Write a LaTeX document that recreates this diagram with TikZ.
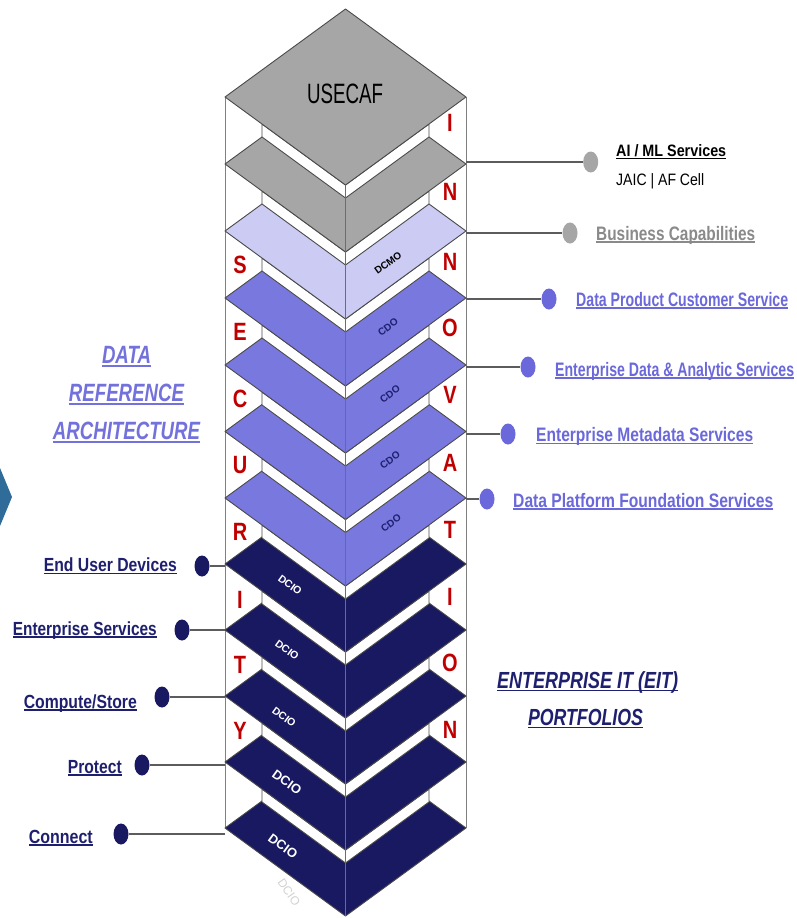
\documentclass[tikz,border=0pt]{standalone}
\usepackage{fontspec}
\setmainfont{Liberation Sans}
\usepackage{graphicx}
\usetikzlibrary{shapes.geometric}
\definecolor{gry}{HTML}{A6A6A6}
\definecolor{dcmo}{HTML}{CBCBF4}
\definecolor{cdo}{HTML}{7878DF}
\definecolor{dcio}{HTML}{191962}
\definecolor{edge}{HTML}{4A4A4A}
\definecolor{post}{HTML}{808080}
\definecolor{blu}{HTML}{6A68DA}
\definecolor{navy}{HTML}{1F1F6F}
\definecolor{gtxt}{HTML}{8A8A8A}
\definecolor{ttl}{HTML}{7371DC}
\definecolor{secred}{HTML}{C00000}
\definecolor{arrowblue}{HTML}{2F6C9A}
\newsavebox\ubox
\newcommand\ulx[1]{\sbox\ubox{#1}\usebox\ubox\llap{\rule[-0.14em]{\wd\ubox}{0.075em}}}
\newcommand\fitw[2]{\resizebox{#1}{\height}{#2}}
\tikzset{
  faceline/.style={draw=edge, line width=0.9pt, line join=round},
  conn/.style={draw=edge!90, line width=1.3pt},
  dot/.style={ellipse, minimum width=15pt, minimum height=21pt, inner sep=0pt},
  rlbl/.style={anchor=base west, inner sep=0pt, font=\bfseries\fontsize{19.5}{20}\selectfont},
  llbl/.style={anchor=base east, inner sep=0pt, font=\bfseries\fontsize{19}{20}\selectfont, text=navy},
  ttlbl/.style={anchor=base, inner sep=0pt, font=\bfseries\itshape\fontsize{25}{26}\selectfont},
  seclet/.style={inner sep=0pt, font=\bfseries\fontsize{25}{25}\selectfont, text=secred},
  laytxt/.style={inner sep=0pt, font=\bfseries\fontsize{10.5}{11}\selectfont},
  cdotxt/.style={inner sep=0pt, rotate=36, text=navy, font=\bfseries\fontsize{10}{10}\selectfont},
}
\begin{document}
\begin{tikzpicture}[x=1pt,y=-1pt]
\useasboundingbox (0,0) rectangle (797,918);
\fill[white] (0,0) rectangle (797,918);
% left blue arrow fragment
\fill[arrowblue] (0,468) -- (12,497) -- (0,526) -- cycle;
% outer posts
\draw[post, line width=0.9pt] (225,97) -- (225,828);
\draw[post, line width=0.9pt] (466,97) -- (466,828);
% layers bottom to top
\foreach \i/\y/\col in {12/828/dcio,11/762/dcio,10/696/dcio,9/630/dcio,8/564/dcio,7/498/cdo,6/431.5/cdo,5/365/cdo,4/298/cdo,3/231/dcmo,2/164/gry,1/97/gry}{
  \ifnum\i<12
    \fill[white, faceline] (262,\y+27) -- (345.5,\y+88) -- (429,\y+27) -- (429,\y+40) -- (345.5,\y+101) -- (262,\y+40) -- cycle;
  \fi
  \fill[fill=\col, faceline] (225,\y) -- (345.5,\y-88) -- (466,\y) -- (345.5,\y+88) -- cycle;
  \coordinate (L\i) at (225,\y);
  \coordinate (R\i) at (466,\y);
}
% central crease
\draw[post!85!black, line width=0.8pt] (345.5,185) -- (345.5,916);
% top label
\node[anchor=base, inner sep=0pt, font=\fontsize{28}{28}\selectfont] (usecaf) at (345,103) {\fitw{76pt}{USECAF}};
% layer labels
\node[laytxt, rotate=36, text=black, font=\bfseries\fontsize{10}{10}\selectfont] (tdcmo) at (388,263) {DCMO};
\node[cdotxt] (tcdo1) at (388,327) {CDO};
\node[cdotxt] (tcdo2) at (390,394) {CDO};
\node[cdotxt] (tcdo3) at (390,460) {CDO};
\node[cdotxt] (tcdo4) at (391,523) {CDO};
\node[laytxt, rotate=-36, text=white] (tdcio1) at (290,585) {DCIO};
\node[laytxt, rotate=-36, text=white] (tdcio2) at (287,650) {DCIO};
\node[laytxt, rotate=-36, text=white] (tdcio3) at (284,717) {DCIO};
\node[laytxt, rotate=-36, text=white, font=\bfseries\fontsize{13}{13}\selectfont] (tdcio4) at (287,782) {DCIO};
\node[laytxt, rotate=-36, text=white, font=\bfseries\fontsize{13}{13}\selectfont] (tdcio5) at (283,846) {DCIO};
\node[laytxt, rotate=-55, text=gray!35, font=\fontsize{12}{12}\selectfont] (tghost) at (289,892) {DCIO};
% SECURITY letters
\foreach \n/\l/\yy in {s1/S/265,s2/E/332,s3/C/399,s4/U/465,s5/R/532,s6/I/600,s7/T/665,s8/Y/731}{
  \node[seclet] (\n) at (240,\yy) {\scalebox{0.8}[1]{\l}};
}
% INNOVATION letters
\foreach \n/\l/\yy in {n1/I/123,n2/N/192,n3/N/262,n4/O/328,n5/V/395,n6/A/463,n7/T/530,n8/I/597,n9/O/663,n10/N/730}{
  \node[seclet] (\n) at (450,\yy) {\scalebox{0.8}[1]{\l}};
}
% right dots and connectors
\node[dot, fill=gry] (d1) at (590.7,162) {};
\node[dot, fill=gry] (d2) at (570,233) {};
\node[dot, fill=blu] (d3) at (549,299) {};
\node[dot, fill=blu] (d4) at (528,367) {};
\node[dot, fill=blu] (d5) at (508,434) {};
\node[dot, fill=blu] (d6) at (487,499) {};
\coordinate (c1) at (466,162);
\coordinate (c2) at (466,233);
\coordinate (c3) at (466,299);
\coordinate (c4) at (466,367);
\coordinate (c5) at (466,434);
\coordinate (c6) at (466,499);
\foreach \k in {1,...,6}{ \draw[conn] (c\k) -- (d\k); }
% right labels
\node[rlbl, text=black, font=\bfseries\fontsize{16.5}{17}\selectfont] (t1) at (616,156.7) {\fitw{110pt}{\ulx{AI / ML Services}}};
\node[rlbl, text=black, font=\fontsize{16.5}{17}\selectfont] (t1b) at (616,185) {\fitw{88pt}{JAIC | AF Cell}};
\node[rlbl, text=gtxt] (t2) at (596,240) {\fitw{159pt}{\ulx{Business Capabilities}}};
\node[rlbl, text=blu] (t3) at (576,306) {\fitw{212pt}{\ulx{Data Product Customer Service}}};
\node[rlbl, text=blu] (t4) at (555,376) {\fitw{239pt}{\ulx{Enterprise Data \& Analytic Services}}};
\node[rlbl, text=blu] (t5) at (536,441.5) {\fitw{217pt}{\ulx{Enterprise Metadata Services}}};
\node[rlbl, text=blu] (t6) at (513,507) {\fitw{260pt}{\ulx{Data Platform Foundation Services}}};
% left dots and connectors
\node[dot, fill=dcio] (e1) at (202,566) {};
\node[dot, fill=dcio] (e2) at (182,630) {};
\node[dot, fill=dcio] (e3) at (162,697) {};
\node[dot, fill=dcio] (e4) at (142,765) {};
\node[dot, fill=dcio] (e5) at (121,834) {};
\coordinate (p1) at (225,566);
\coordinate (p2) at (225,630);
\coordinate (p3) at (225,697);
\coordinate (p4) at (225,765);
\coordinate (p5) at (225,834);
\foreach \k in {1,...,5}{ \draw[conn] (e\k) -- (p\k); }
% left labels
\node[llbl] (u1) at (177,571.7) {\fitw{133pt}{\ulx{End User Devices}}};
\node[llbl] (u2) at (157,635) {\fitw{144pt}{\ulx{Enterprise Services}}};
\node[llbl] (u3) at (137,708) {\fitw{113pt}{\ulx{Compute/Store}}};
\node[llbl] (u4) at (122,773) {\fitw{54pt}{\ulx{Protect}}};
\node[llbl] (u5) at (93,843) {\fitw{64pt}{\ulx{Connect}}};
% titles
\node[ttlbl, text=ttl] (a1) at (126.5,363) {\fitw{49pt}{\ulx{DATA}}};
\node[ttlbl, text=ttl] (a2) at (126.5,401) {\fitw{115pt}{\ulx{REFERENCE}}};
\node[ttlbl, text=ttl] (a3) at (126.5,439) {\fitw{147pt}{\ulx{ARCHITECTURE}}};
\node[ttlbl, text=navy, font=\bfseries\itshape\fontsize{23.3}{24}\selectfont] (b1) at (587.5,688) {\fitw{181pt}{\ulx{ENTERPRISE IT (EIT)}}};
\node[ttlbl, text=navy, font=\bfseries\itshape\fontsize{23.3}{24}\selectfont] (b2) at (585.5,725) {\fitw{115pt}{\ulx{PORTFOLIOS}}};
\end{tikzpicture}
\end{document}
